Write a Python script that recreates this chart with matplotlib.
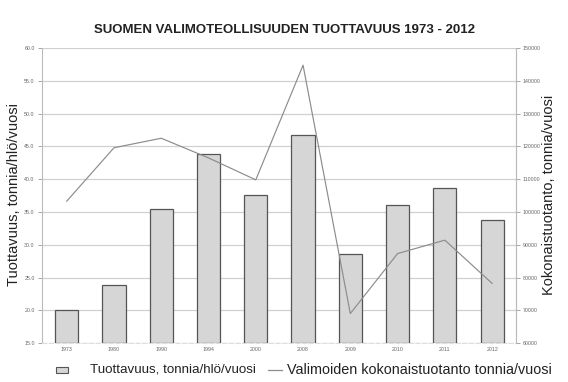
import matplotlib
matplotlib.use("Agg")
import matplotlib.pyplot as plt
from matplotlib.patches import Rectangle
from matplotlib.lines import Line2D

years = ["1973", "1980", "1990", "1994", "2000", "2008", "2009", "2010", "2011", "2012"]
productivity = [20.1, 23.9, 35.4, 43.8, 37.6, 46.8, 28.6, 36.1, 38.6, 33.8]
total_production = [103300, 119600, 122500, 116500, 109800, 144800, 69000, 87300, 91400, 78200]

left_ticks = [15.0, 20.0, 25.0, 30.0, 35.0, 40.0, 45.0, 50.0, 55.0, 60.0]
right_ticks = [60000, 70000, 80000, 90000, 100000, 110000, 120000, 130000, 140000, 150000]

plt.rcParams['font.family'] = ['Liberation Sans', 'DejaVu Sans']

W, H = 568, 382
fig = plt.figure(figsize=(W / 100, H / 100), dpi=100)
ax = fig.add_axes([0.0734, 0.102, 0.8346, 0.772])
x = list(range(len(years)))

ax.bar(x, [p - 15 for p in productivity], bottom=15, width=0.49,
       color='#d6d6d6', edgecolor='#555555', linewidth=0.9, zorder=3)
ax.set_ylim(15, 60)
ax.set_xlim(-0.53, 9.5)
ax.set_yticks(left_ticks)
ax.set_yticklabels([f"{t:.1f}" for t in left_ticks])
ax.set_xticks(x)
ax.set_xticklabels(years)
ax.grid(axis='y', color='#d0d0d0', linewidth=0.9, zorder=0)
ax.tick_params(axis='both', labelsize=3.8, colors='#999999', labelcolor='#666666', length=3, width=0.6, pad=2)
ax.tick_params(axis='x', length=0, pad=3)
ax.spines['top'].set_visible(False)
ax.spines['left'].set_color('#bbbbbb')
ax.spines['right'].set_color('#bbbbbb')
ax.spines['bottom'].set_color('#dddddd')
ax.spines['bottom'].set_linestyle((0, (4, 2)))

ax2 = ax.twinx()
ax2.plot(x, total_production, color='#8c8c8c', linewidth=0.85, zorder=4)
ax2.set_ylim(60000, 150000)
ax2.set_yticks(right_ticks)
ax2.set_yticklabels([str(t) for t in right_ticks])
ax2.tick_params(axis='y', labelsize=3.8, colors='#999999', labelcolor='#666666', length=3, width=0.6, pad=2)
for s in ['top', 'left', 'bottom']:
    ax2.spines[s].set_visible(False)
ax2.spines['right'].set_color('#bbbbbb')

fig.text(0.5, 0.921, "SUOMEN VALIMOTEOLLISUUDEN TUOTTAVUUS 1973 - 2012",
         ha='center', va='center', fontsize=9.5, fontweight='bold', color='#222222')
fig.text(0.024, 0.49, "Tuottavuus, tonnia/hlö/vuosi", rotation=90,
         ha='center', va='center', fontsize=10.5, color='#222222')
fig.text(0.966, 0.49, "Kokonaistuotanto, tonnia/vuosi", rotation=90,
         ha='center', va='center', fontsize=10.5, color='#222222')

# legend (manual)
ly = 1 - 370 / H
fig.add_artist(Rectangle((56 / W, ly - 3 / H), 12 / W, 6 / H, transform=fig.transFigure,
                         facecolor='#d6d6d6', edgecolor='#555555', linewidth=0.8))
fig.text(90 / W, ly, "Tuottavuus, tonnia/hlö/vuosi", ha='left', va='center',
         fontsize=9.6, color='#222222')
fig.add_artist(Line2D([268 / W, 282 / W], [ly, ly], transform=fig.transFigure,
                      color='#8c8c8c', linewidth=0.9))
fig.text(287 / W, ly, "Valimoiden kokonaistuotanto tonnia/vuosi", ha='left', va='center',
         fontsize=10.4, color='#222222')

fig.savefig("out.png", dpi=100, facecolor='white')
